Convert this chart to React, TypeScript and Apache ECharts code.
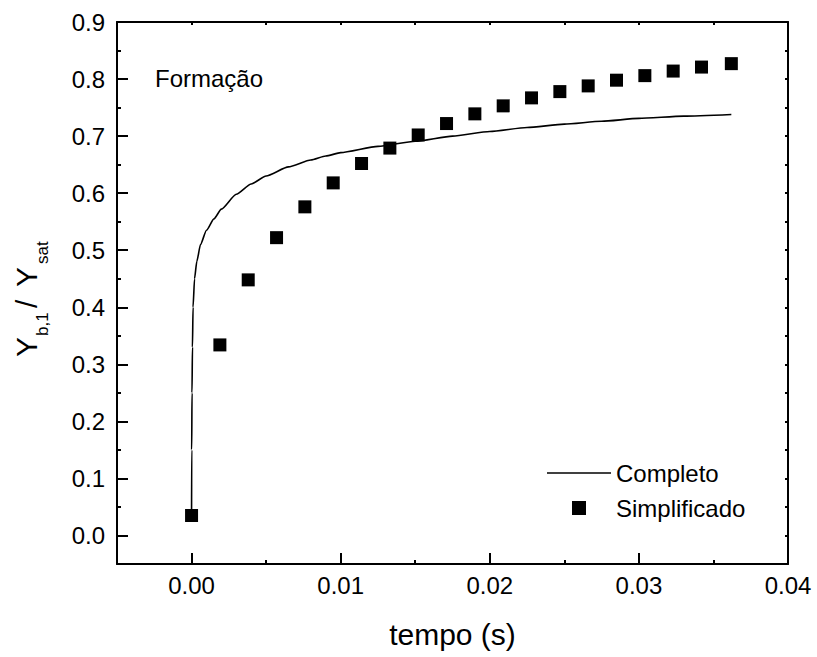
import React, { useEffect, useRef } from "react";
import * as echarts from "echarts";

const FONT = '"Liberation Sans", Arial, sans-serif';

const SQUARE_T = [0, 0.0019, 0.0038, 0.0057, 0.0076, 0.0095, 0.0114, 0.0133, 0.0152, 0.0171, 0.019, 0.0209, 0.0228, 0.0247, 0.0266, 0.0285, 0.0304, 0.0323, 0.0342, 0.0362];
const SQUARE_Y = [0.035, 0.334, 0.448, 0.522, 0.576, 0.618, 0.652, 0.679, 0.702, 0.722, 0.739, 0.753, 0.767, 0.778, 0.788, 0.798, 0.806, 0.814, 0.821, 0.827];

const LINE_T = [0, 0.00001, 0.00003, 0.00006, 0.0001, 0.0002, 0.00035, 0.0006, 0.001, 0.0015, 0.002, 0.003, 0.004, 0.005, 0.0065, 0.008, 0.009, 0.01, 0.0125, 0.015, 0.0175, 0.02, 0.0225, 0.025, 0.0275, 0.03, 0.033, 0.0362];
const LINE_Y = [0.03, 0.15, 0.25, 0.33, 0.4, 0.45, 0.48, 0.51, 0.535, 0.555, 0.572, 0.598, 0.616, 0.63, 0.646, 0.658, 0.665, 0.671, 0.682, 0.691, 0.7, 0.708, 0.715, 0.721, 0.726, 0.731, 0.735, 0.738];

const X_MAJOR = [0, 0.01, 0.02, 0.03, 0.04];
const X_MINOR = [0.005, 0.015, 0.025, 0.035];
const X_ALL = [0, 0.005, 0.01, 0.015, 0.02, 0.025, 0.03, 0.035];
const Y_MAJOR = [0, 0.1, 0.2, 0.3, 0.4, 0.5, 0.6, 0.7, 0.8, 0.9];
const Y_MINOR = [0.05, 0.15, 0.25, 0.35, 0.45, 0.55, 0.65, 0.75, 0.85];
const Y_ALL = [0, 0.05, 0.1, 0.15, 0.2, 0.25, 0.3, 0.35, 0.4, 0.45, 0.5, 0.55, 0.6, 0.65, 0.7, 0.75, 0.8, 0.85];

const SERIES_NAMES = ["Completo", "Simplificado"];

const axisLineStyle = { color: "#000", width: 2 };

export default function App() {
  const ref = useRef<HTMLDivElement>(null);
  useEffect(() => {
    if (!ref.current) return;
    const chart = echarts.init(ref.current, null, { renderer: "svg" });
    const xr = { min: -0.005, max: 0.04 };
    const yr = { min: -0.05, max: 0.9 };
    const option: any = {
      animation: false,
      backgroundColor: "#fff",
      grid: { left: 117, right: 29, top: 22, bottom: 93, containLabel: false },
      xAxis: [
        {
          type: "value", ...xr, position: "bottom",
          axisLine: { show: true, onZero: false, lineStyle: axisLineStyle },
          axisTick: { show: true, inside: true, length: 11, customValues: X_MAJOR, lineStyle: axisLineStyle },
          axisLabel: { show: true, customValues: X_MAJOR, formatter: (v: number) => v.toFixed(2), fontSize: 24, color: "#000", fontFamily: FONT, margin: 9 },
          splitLine: { show: false },
          name: "tempo (s)", nameLocation: "middle", nameGap: 55,
          nameTextStyle: { fontSize: 30, color: "#000", fontFamily: FONT },
        },
        {
          type: "value", ...xr, position: "bottom",
          axisLine: { show: false, onZero: false },
          axisTick: { show: true, inside: true, length: 4, customValues: X_MINOR, lineStyle: axisLineStyle },
          axisLabel: { show: false }, splitLine: { show: false },
        },
        {
          type: "value", ...xr, position: "top",
          axisLine: { show: true, onZero: false, lineStyle: axisLineStyle },
          axisTick: { show: true, inside: true, length: 3, customValues: X_ALL, lineStyle: axisLineStyle },
          axisLabel: { show: false }, splitLine: { show: false },
        },
      ],
      yAxis: [
        {
          type: "value", ...yr, position: "left",
          axisLine: { show: true, onZero: false, lineStyle: axisLineStyle },
          axisTick: { show: true, inside: true, length: 11, customValues: Y_MAJOR, lineStyle: axisLineStyle },
          axisLabel: { show: true, customValues: Y_MAJOR, formatter: (v: number) => v.toFixed(1), fontSize: 24, color: "#000", fontFamily: FONT, margin: 12 },
          splitLine: { show: false },
        },
        {
          type: "value", ...yr, position: "left",
          axisLine: { show: false, onZero: false },
          axisTick: { show: true, inside: true, length: 4, customValues: Y_MINOR, lineStyle: axisLineStyle },
          axisLabel: { show: false }, splitLine: { show: false },
        },
        {
          type: "value", ...yr, position: "right",
          axisLine: { show: true, onZero: false, lineStyle: axisLineStyle },
          axisTick: { show: true, inside: true, length: 3, customValues: Y_ALL, lineStyle: axisLineStyle },
          axisLabel: { show: false }, splitLine: { show: false },
        },
      ],
      legend: {
        orient: "vertical",
        left: 547, top: 461,
        padding: 0,
        itemWidth: 64, itemHeight: 14, itemGap: 11,
        symbolKeepAspect: true,
        textStyle: { fontSize: 24, color: "#000", fontFamily: FONT },
        data: [
          { name: SERIES_NAMES[0], icon: "path://M0,0L64,0L64,1.6L0,1.6Z", itemStyle: { color: "#000", opacity: 1 } },
          { name: SERIES_NAMES[1], icon: "path://M0,0L1,0L1,1L0,1Z", itemStyle: { color: "#000", opacity: 1 } },
        ],
        selectedMode: false,
      },
      series: [
        {
          name: SERIES_NAMES[0], type: "line",
          xAxisIndex: 0, yAxisIndex: 0,
          data: LINE_T.map((t, i) => [t, LINE_Y[i]]),
          symbol: "none", showSymbol: false,
          smooth: 0.2, smoothMonotone: "x",
          lineStyle: { color: "#000", width: 1.6 },
          itemStyle: { color: "#000" },
          z: 2,
        },
        {
          name: SERIES_NAMES[1], type: "scatter",
          xAxisIndex: 0, yAxisIndex: 0,
          data: SQUARE_T.map((t, i) => [t, SQUARE_Y[i]]),
          symbol: "rect", symbolSize: 13,
          itemStyle: { color: "#000", opacity: 1 },
          z: 3,
        },
      ],
      graphic: [
        {
          type: "text", x: 155, y: 78.5,
          style: { text: "Formação", fontSize: 24, fontFamily: FONT, fill: "#000", align: "left", verticalAlign: "middle" },
        },
        {
          type: "group", x: 0, y: 357, rotation: Math.PI / 2,
          children: [
            { type: "text", x: 0, y: 26.6, style: { text: "Y", fontSize: 30, fontFamily: FONT, fill: "#000", align: "left", verticalAlign: "middle" } },
            { type: "text", x: 21, y: 42.5, style: { text: "b,1", fontSize: 17, fontFamily: FONT, fill: "#000", align: "left", verticalAlign: "middle" } },
            { type: "text", x: 49, y: 26.6, style: { text: "/", fontSize: 30, fontFamily: FONT, fill: "#000", align: "left", verticalAlign: "middle" } },
            { type: "text", x: 70, y: 26.6, style: { text: "Y", fontSize: 30, fontFamily: FONT, fill: "#000", align: "left", verticalAlign: "middle" } },
            { type: "text", x: 93, y: 42.5, style: { text: "sat", fontSize: 17, fontFamily: FONT, fill: "#000", align: "left", verticalAlign: "middle" } },
          ],
        },
      ],
    };
    chart.setOption(option);
    return () => chart.dispose();
  }, []);
  return <div ref={ref} style={{ position: "absolute", left: 0, top: 0, width: 817, height: 657 }} />;
}
